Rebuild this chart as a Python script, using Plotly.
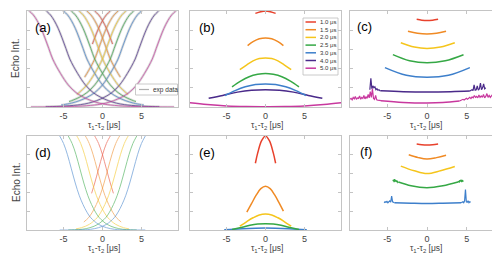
import numpy as np
import plotly.graph_objects as go

W, H = 500, 253
FONT = "Liberation Sans, Arial, Helvetica, sans-serif"
FRAME = "#c4c4c4"
TXT = "#444444"

colors = ["#E8412C", "#F08A24", "#F5C51C", "#35A845", "#3D7FCB", "#4A2A8A", "#C8389E"]
legend_labels = ["1.0 μs", "1.5 μs", "2.0 μs", "2.5 μs", "3.0 μs", "4.0 μs", "5.0 μs"]
xtick_vals = [-5, 0, 5]
xtick_text = ["-5", "0", "5"]
ytick_vals = [0.2, 0.4, 0.6, 0.8]

# ---------- panel (a): fitted decays vs tau1-tau2 (descending branch; ascending is its mirror)
a_x = [
    [-1.3, -1.0, -0.5, 0, 0.5, 1.0, 1.3],
    [-2.3, -2.0, -1.5, -1.0, -0.5, 0, 0.5, 1.0, 1.5, 2.0, 2.3],
    [-3.3, -3.0, -2.5, -2.0, -1.5, -1.0, -0.5, 0, 1, 2, 3, 3.3],
    [-4.3, -4.0, -3.5, -3.0, -2.5, -2.0, -1.5, -1.0, 0, 1, 2, 3, 4, 4.3],
    [-5.3, -5.0, -4.5, -4.0, -3.5, -3.0, -2.5, -2.0, -1, 0, 1, 2, 3, 4, 5, 5.3],
    [-7.3, -7.2, -6.7, -6.2, -5.7, -5.2, -4.7, -4.2, -3.2, -2.2, -1.2, -0.2, 0.8, 1.8, 2.8, 4.8, 6.8, 7.3],
    [-9.6, -9.4, -8.9, -8.4, -7.9, -7.4, -6.9, -6.4, -5.4, -4.4, -3.4, -2.4, -1.4, -0.4, 0.6, 2.6, 4.6, 6.6, 9.2],
]
a_y = [
    [1.03, 1.0, 0.96, 0.9, 0.82, 0.72, 0.655],
    [1.03, 1.0, 0.96, 0.9, 0.82, 0.72, 0.61, 0.5, 0.42, 0.35, 0.31],
    [1.03, 1.0, 0.96, 0.9, 0.82, 0.72, 0.61, 0.5, 0.35, 0.23, 0.15, 0.13],
    [1.03, 1.0, 0.96, 0.9, 0.82, 0.72, 0.61, 0.5, 0.35, 0.23, 0.15, 0.1, 0.065, 0.057],
    [1.03, 1.0, 0.96, 0.9, 0.82, 0.72, 0.61, 0.5, 0.35, 0.23, 0.15, 0.1, 0.065, 0.04, 0.025, 0.022],
    [1.01, 1.0, 0.96, 0.9, 0.82, 0.72, 0.61, 0.5, 0.35, 0.23, 0.15, 0.1, 0.065, 0.04, 0.025, 0.01, 0.004, 0.003],
    [1.02, 1.0, 0.96, 0.9, 0.82, 0.72, 0.61, 0.5, 0.35, 0.23, 0.15, 0.1, 0.065, 0.04, 0.025, 0.01, 0.004, 0.001, 0.0],
]

# ---------- panel (b): echo vs tau1-tau2 at fixed sum
b_x = [
    [-1.3, -0.6, 0, 0.6, 1.3],
    [-2.3, -1.6, -0.8, 0, 0.8, 1.6, 2.3],
    [-3.3, -2.4, -1.6, -0.8, 0, 0.8, 1.6, 2.4, 3.3],
    [-4.3, -3.2, -2.1, -1.0, 0, 1.0, 2.1, 3.2, 4.3],
    [-5.2, -3.9, -2.6, -1.3, 0, 1.3, 2.6, 3.9, 5.2],
    [-7.3, -5.5, -3.6, -1.8, 0, 1.8, 3.6, 5.5, 7.3],
    [-9.8, -7.5, -5.0, -2.5, 0, 2.5, 5.0, 7.5, 9.8],
]
b_y = [
    [0.975, 0.993, 1.0, 0.993, 0.975],
    [0.64, 0.68, 0.71, 0.72, 0.71, 0.68, 0.64],
    [0.39, 0.44, 0.48, 0.505, 0.51, 0.505, 0.48, 0.44, 0.39],
    [0.21, 0.27, 0.315, 0.34, 0.35, 0.34, 0.315, 0.27, 0.21],
    [0.12, 0.17, 0.21, 0.235, 0.24, 0.235, 0.21, 0.17, 0.12],
    [0.09, 0.12, 0.155, 0.175, 0.18, 0.175, 0.155, 0.12, 0.09],
    [0.045, 0.025, 0.01, 0.004, 0.003, 0.004, 0.01, 0.025, 0.045],
]

# ---------- panel (c): normalised curves (smooth ones)
c_x = [
    [-1.3, -0.65, 0, 0.7, 1.4],
    [-2.4, -1.2, 0, 1.2, 2.4],
    [-3.3, -1.6, 0, 1.7, 3.5],
    [-4.3, -2.2, 0, 2.3, 4.6],
    [-5.3, -2.6, 0, 2.7, 5.4],
]
c_y = [
    [0.913, 0.904, 0.9, 0.904, 0.913],
    [0.79, 0.768, 0.76, 0.768, 0.79],
    [0.67, 0.625, 0.61, 0.625, 0.67],
    [0.545, 0.482, 0.46, 0.482, 0.545],
    [0.41, 0.33, 0.31, 0.33, 0.41],
]
# noisy 4.0 us and 5.0 us curves of (c)
c_purple_left = [0.18, 0.30, 0.19, 0.22, 0.20, 0.21, 0.18, 0.19, 0.175, 0.18, 0.17, 0.168]
c_purple_mid_x = [-5.8, -3.0, 0, 3.0, 5.4]
c_purple_mid_y = [0.168, 0.16, 0.157, 0.16, 0.166]
c_purple_right = [0.166, 0.17, 0.18, 0.17, 0.23, 0.175, 0.18, 0.22, 0.175, 0.19, 0.25, 0.18, 0.2, 0.24, 0.19, 0.2]
c_pink_left = [0.08, 0.09, 0.075, 0.1, 0.085, 0.11, 0.08, 0.095, 0.09, 0.115, 0.08, 0.1, 0.09, 0.12, 0.085,
               0.105, 0.09, 0.13, 0.095, 0.16, 0.1, 0.19, 0.09, 0.08, 0.12, 0.075, 0.072, 0.07, 0.068, 0.066]
c_pink_mid_x = [-5.8, -3.0, 0, 2.0, 4.1]
c_pink_mid_y = [0.066, 0.048, 0.042, 0.046, 0.062]
c_pink_right = [0.062, 0.07, 0.075, 0.08, 0.072, 0.085, 0.09, 0.08, 0.095, 0.1, 0.088, 0.105, 0.095, 0.12, 0.1,
                0.11, 0.095, 0.125, 0.1, 0.115, 0.1, 0.13, 0.095, 0.11, 0.14, 0.1, 0.12, 0.1, 0.115, 0.13,
                0.1, 0.16, 0.105, 0.12, 0.11, 0.165, 0.1, 0.12, 0.13, 0.11]

# ---------- panel (d): simulated decays (descending branch; ascending is its mirror)
d_x = [
    [-1.2, -1.0, -0.5, 0, 0.5, 1.0, 1.4],
    [-2.4, -2.2, -1.7, -1.2, -0.7, -0.2, 0.3, 0.8, 1.3, 1.8, 2.4],
    [-3.4, -3.3, -2.8, -2.3, -1.8, -1.3, -0.8, -0.3, 0.2, 0.7, 1.7, 2.7, 3.4],
    [-4.4, -3.9, -3.4, -2.9, -2.4, -1.9, -1.4, -0.9, -0.4, 0.6, 1.6, 2.6, 3.6, 4.4],
    [-5.5, -5.0, -4.5, -4.0, -3.5, -3.0, -2.5, -2.0, -1.5, -0.5, 0.5, 1.5, 2.5, 5.5],
]
d_y = [
    [1.03, 1.0, 0.92, 0.8, 0.65, 0.5, 0.39],
    [1.02, 1.0, 0.92, 0.8, 0.65, 0.5, 0.37, 0.27, 0.19, 0.13, 0.085],
    [1.01, 1.0, 0.92, 0.8, 0.65, 0.5, 0.37, 0.27, 0.19, 0.13, 0.06, 0.025, 0.012],
    [1.0, 0.92, 0.8, 0.65, 0.5, 0.37, 0.27, 0.19, 0.13, 0.06, 0.025, 0.008, 0.002, 0.0],
    [1.0, 0.92, 0.8, 0.65, 0.5, 0.37, 0.27, 0.19, 0.13, 0.06, 0.025, 0.008, 0.002, 0.0],
]

# ---------- panel (e): simulated echo vs tau1-tau2 at fixed sum
e_x = [
    [-1.3, -1.0, -0.5, 0, 0.5, 1.0, 1.3],
    [-2.4, -1.8, -1.2, -0.6, 0, 0.6, 1.2, 1.8, 2.3],
    [-3.3, -2.4, -1.6, -0.8, 0, 0.8, 1.6, 2.4, 3.3],
    [-4.3, -3.0, -2.0, -1.0, 0, 1.0, 2.0, 3.0, 4.3],
    [-5.3, -3.0, 0, 3.0, 5.3],
]
e_y = [
    [0.71, 0.82, 0.95, 1.0, 0.95, 0.82, 0.71],
    [0.19, 0.28, 0.37, 0.44, 0.465, 0.44, 0.37, 0.28, 0.2],
    [0.04, 0.09, 0.13, 0.16, 0.17, 0.16, 0.13, 0.09, 0.04],
    [0.005, 0.03, 0.05, 0.063, 0.067, 0.063, 0.05, 0.03, 0.005],
    [0.002, 0.013, 0.02, 0.013, 0.002],
]

# ---------- panel (f): simulated normalised curves
f_x = [
    [-1.3, -0.65, 0, 0.7, 1.4],
    [-2.3, -1.1, 0, 1.2, 2.4],
    [-3.3, -1.6, 0, 1.7, 3.5],
]
f_y = [
    [0.915, 0.908, 0.905, 0.908, 0.915],
    [0.80, 0.77, 0.755, 0.77, 0.795],
    [0.68, 0.63, 0.60, 0.63, 0.675],
]
f_green_left = [0.52, 0.535, 0.51, 0.54, 0.515, 0.53, 0.51, 0.525, 0.505, 0.51]
f_green_mid_x = [-3.6, -2.0, 0, 2.0, 3.9]
f_green_mid_y = [0.51, 0.47, 0.45, 0.47, 0.51]
f_green_right = [0.51, 0.52, 0.505, 0.53, 0.515, 0.535, 0.51, 0.53, 0.52, 0.525]
f_blue_left = [0.29, 0.3, 0.295, 0.305, 0.29, 0.3, 0.31, 0.295, 0.36, 0.3, 0.295, 0.29]
f_blue_mid_x = [-4.1, -2.0, 0, 2.0, 4.3]
f_blue_mid_y = [0.29, 0.285, 0.282, 0.285, 0.29]
f_blue_right = [0.29, 0.295, 0.3, 0.29, 0.31, 0.43, 0.3, 0.295, 0.31, 0.29, 0.3, 0.295]

fig = go.Figure()


def add(x, y, ax, color, width=1.4, shape="spline", opacity=1.0):
    n = "" if ax == 1 else str(ax)
    fig.add_trace(go.Scatter(x=list(x), y=list(y), mode="lines",
                             line=dict(color=color, width=width, shape=shape),
                             opacity=opacity, xaxis="x" + n, yaxis="y" + n,
                             showlegend=False, hoverinfo="skip"))


def mirror(xs, ys):
    return [-v for v in reversed(xs)], list(reversed(ys))


# (a) grey experimental data underneath, then fits
for xs, ys in zip(a_x, a_y):
    mx, my = mirror(xs, ys)
    add(xs, ys, 1, "rgba(185,185,185,0.55)", width=2.4)
    add(mx, my, 1, "rgba(185,185,185,0.55)", width=2.4)
for i, (xs, ys) in enumerate(zip(a_x, a_y)):
    mx, my = mirror(xs, ys)
    add(xs, ys, 1, colors[i], width=0.9, opacity=0.75)
    add(mx, my, 1, colors[i], width=0.9, opacity=0.75)

# (b)
for i in range(6, -1, -1):
    add(b_x[i], b_y[i], 2, colors[i], width=1.5)

# (c)
for i in range(5):
    add(c_x[i], c_y[i], 3, colors[i], width=1.5)
add(np.linspace(-7.2, -5.8, len(c_purple_left)), c_purple_left, 3, colors[5], 1.2, "linear")
add(c_purple_mid_x, c_purple_mid_y, 3, colors[5], 1.5)
add(np.linspace(5.4, 7.4, len(c_purple_right)), c_purple_right, 3, colors[5], 1.2, "linear")
add(np.linspace(-9.7, -5.8, len(c_pink_left)), c_pink_left, 3, colors[6], 1.2, "linear")
add(c_pink_mid_x, c_pink_mid_y, 3, colors[6], 1.5)
add(np.linspace(4.1, 9.7, len(c_pink_right)), c_pink_right, 3, colors[6], 1.2, "linear")

# (d)
for i, (xs, ys) in enumerate(zip(d_x, d_y)):
    mx, my = mirror(xs, ys)
    add(xs, ys, 4, colors[i], width=1.0, opacity=0.55)
    add(mx, my, 4, colors[i], width=1.0, opacity=0.55)

# (e)
for i in range(4, -1, -1):
    add(e_x[i], e_y[i], 5, colors[i], width=1.5)

# (f)
for i in range(3):
    add(f_x[i], f_y[i], 6, colors[i], width=1.5)
add(np.linspace(-4.3, -3.6, len(f_green_left)), f_green_left, 6, colors[3], 1.2, "linear")
add(f_green_mid_x, f_green_mid_y, 6, colors[3], 1.5)
add(np.linspace(3.9, 4.6, len(f_green_right)), f_green_right, 6, colors[3], 1.2, "linear")
add(np.linspace(-5.4, -4.1, len(f_blue_left)), f_blue_left, 6, colors[4], 1.2, "linear")
add(f_blue_mid_x, f_blue_mid_y, 6, colors[4], 1.5)
add(np.linspace(4.3, 5.5, len(f_blue_right)), f_blue_right, 6, colors[4], 1.2, "linear")

# ---------- layout
col_dom = [(19, 170), (182, 333), (342, 496)]
row_dom = [(3, 99), (128, 222)]
layout = dict(width=W, height=H, margin=dict(l=0, r=0, t=0, b=0),
              paper_bgcolor="white", plot_bgcolor="white",
              font=dict(family=FONT, color=TXT), showlegend=False)
for i in range(6):
    r, c = divmod(i, 3)
    n = "" if i == 0 else str(i + 1)
    x0, x1 = col_dom[c]
    y0, y1 = row_dom[r]
    layout["xaxis" + n] = dict(domain=[x0 / W, x1 / W], anchor="y" + n, range=[-9.7, 9.7],
                               showline=True, linecolor=FRAME, linewidth=1, mirror="ticks",
                               ticks="inside", ticklen=3, tickcolor=FRAME,
                               tickvals=xtick_vals, ticktext=xtick_text,
                               tickfont=dict(size=9, color=TXT, family=FONT),
                               showgrid=False, zeroline=False)
    layout["yaxis" + n] = dict(domain=[1 - y1 / H, 1 - y0 / H], anchor="x" + n, range=[0, 1],
                               showline=True, linecolor=FRAME, linewidth=1, mirror="ticks",
                               ticks="inside", ticklen=3, tickcolor=FRAME,
                               tickvals=ytick_vals, showticklabels=False,
                               showgrid=False, zeroline=False)
fig.update_layout(**layout)


def px(x, y):
    return x / W, 1 - y / H


ann = []
shapes = []
panel_labels = ["(a)", "(b)", "(c)", "(d)", "(e)", "(f)"]
label_pos = [(34.5, 19), (199, 19), (356.5, 18), (34.5, 144), (198.5, 144), (357.5, 143)]
for t, (lx, ly) in zip(panel_labels, label_pos):
    X, Y = px(lx, ly)
    ann.append(dict(text=t, x=X, y=Y, xref="paper", yref="paper", showarrow=False,
                    xanchor="center", yanchor="middle", font=dict(size=13, color="black", family=FONT)))
xtitle = "τ<sub>1</sub>-τ<sub>2</sub> [μs]"
for cx in (96, 259, 418):
    for top in (111, 234):
        X, Y = px(cx, top)
        ann.append(dict(text=xtitle, x=X, y=Y, xref="paper", yref="paper", showarrow=False,
                        xanchor="center", yanchor="top", borderpad=0,
                        font=dict(size=8.5, color=TXT, family=FONT)))
for cy in (51, 175):
    X, Y = px(8, cy)
    ann.append(dict(text="Echo Int.", x=X, y=Y, xref="paper", yref="paper", showarrow=False,
                    textangle=-90, xanchor="center", yanchor="middle",
                    font=dict(size=10, color=TXT, family=FONT)))

# legend of (b)
bx0, by0 = px(295, 10)
bx1, by1 = px(330, 67)
shapes.append(dict(type="rect", xref="paper", yref="paper", x0=bx0, y0=by1, x1=bx1, y1=by0,
                   line=dict(color="#bdbdbd", width=0.8), fillcolor="white", layer="above"))
for i, lab in enumerate(legend_labels):
    yy = 14 + 7.7 * i
    lx0, ly = px(297.5, yy)
    lx1, _ = px(308, yy)
    shapes.append(dict(type="line", xref="paper", yref="paper", x0=lx0, x1=lx1, y0=ly, y1=ly,
                       line=dict(color=colors[i], width=1.5), layer="above"))
    tx, _ = px(309.5, yy)
    ann.append(dict(text=lab, x=tx, y=ly, xref="paper", yref="paper", showarrow=False,
                    xanchor="left", yanchor="middle", font=dict(size=6, color="#333", family=FONT)))

# legend of (a)
ax0, ay0 = px(127.5, 76)
ax1, ay1 = px(169.5, 87)
shapes.append(dict(type="rect", xref="paper", yref="paper", x0=ax0, y0=ay1, x1=ax1, y1=ay0,
                   line=dict(color="#bdbdbd", width=0.8), fillcolor="white", layer="above"))
lx0, ly = px(131, 81.5)
lx1, _ = px(141, 81.5)
shapes.append(dict(type="line", xref="paper", yref="paper", x0=lx0, x1=lx1, y0=ly, y1=ly,
                   line=dict(color="#b0b0b0", width=1.2), layer="above"))
tx, _ = px(143, 81.5)
ann.append(dict(text="exp data", x=tx, y=ly, xref="paper", yref="paper", showarrow=False,
                xanchor="left", yanchor="middle", font=dict(size=6.5, color="#333", family=FONT)))

fig.update_layout(annotations=ann, shapes=shapes)
fig.write_html("out.html")
